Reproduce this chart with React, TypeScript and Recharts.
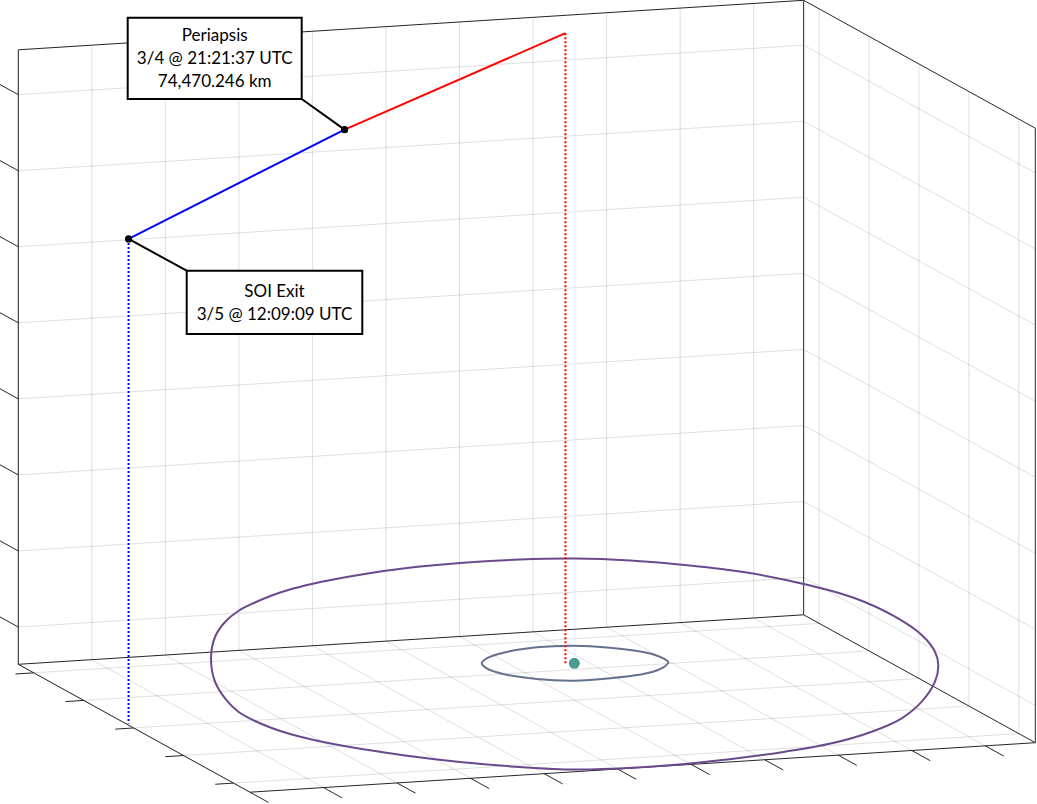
import { ComposedChart, Line, XAxis, YAxis, ReferenceArea } from "recharts";

// 3-D axes box (tick labels are switched off in the figure)
const X_TICKS = [0, 1, 2, 3, 4, 5, 6, 7, 8, 9, 10];
const Y_TICKS = [0, 1, 2, 3, 4];
const Z_TICKS = [0, 1, 2, 3, 4, 5, 6, 7];
const X_LIM = [0, 10.68];
const Y_LIM = [-0.31, 4.33];
const Z_LIM = [-0.49, 7.59];

// hyperbolic pass, in axis units
const approachStart = { x: 6.66, y: 0.84, z: 7.82 };
const periapsis = { x: 3.31, y: 1.35, z: 6.94 };
const soiExit = { x: 0.04, y: 1.84, z: 5.88 };

// orbit outlines as they appear in the view (screen plane)
const outerOrbit = [
  [575, 558.5], [630, 560.5], [690, 565.5], [745, 572.3], [805, 584.3], [855, 598.3],
  [895, 616.7], [921.7, 635], [935, 651.7], [938.3, 665], [935, 681.7], [921.7, 701.7],
  [901.7, 718.3], [871.7, 731.7], [831.7, 743.3], [785, 751.7], [745, 757.3], [690, 763.5],
  [636.7, 767.5], [575, 769.5], [520, 767], [460, 762], [405, 755.5], [361.7, 749],
  [333.3, 744], [311.7, 739.5], [291.7, 734.5], [271.7, 728], [255, 721], [238.3, 711.7],
  [225, 698.3], [215, 681.7], [211, 658.3], [215, 637], [225, 622], [238.3, 611],
  [255, 602.5], [271.7, 595.5], [288.3, 590], [311.7, 584], [333.3, 579.5], [361.7, 574.5],
  [405, 568.3], [460, 563], [520, 559.5],
];
const innerOrbit = [
  [573.3, 645.7], [610, 647.7], [646.7, 652.7], [663.3, 658.3], [668.3, 662.3],
  [663.3, 667.3], [646.7, 673.3], [610, 678.3], [573.3, 680.7], [536.7, 679],
  [503.3, 674], [486.7, 668.3], [481.7, 663.3], [486.7, 658.3], [503.3, 652.7],
  [536.7, 647.3],
];
const planet = [574.3, 663.3];

const periapsisText = ["Periapsis", "3/4 @ 21:21:37 UTC", "74,470.246 km"];
const soiExitText = ["SOI Exit", "3/5 @ 12:09:09 UTC"];

const W = 1037;
const H = 804;

// camera: where the unit box corners land on screen
const VIEW = { ox: 18.3, oy: 664.3, ux: 785.35, uy: -49.5, vx: 231.65, vy: 127.9, wy: -614.5 };
const TICK_V = 0.08; // tick length as a fraction of the y span
const TICK_U = 0.0233;

type P3 = { x: number; y: number; z: number };

function project(p: P3) {
  const u = (p.x - X_LIM[0]) / (X_LIM[1] - X_LIM[0]);
  const v = (p.y - Y_LIM[0]) / (Y_LIM[1] - Y_LIM[0]);
  const w = (p.z - Z_LIM[0]) / (Z_LIM[1] - Z_LIM[0]);
  return {
    px: VIEW.ox + u * VIEW.ux + v * VIEW.vx,
    py: VIEW.oy + u * VIEW.uy + v * VIEW.vy + w * VIEW.wy,
  };
}

// list of 3-D segments -> one broken polyline
function segments(list: [P3, P3][]) {
  const out: any[] = [];
  list.forEach(([a, b]) => {
    const pa = project(a);
    out.push(pa, project(b), { px: pa.px, py: null });
  });
  return out;
}

// closed centripetal Catmull-Rom, used as a d3 curve factory for the orbit loops
function loopCurve(context: any) {
  let pts: number[][] = [];
  return {
    areaStart() {},
    areaEnd() {},
    lineStart() {
      pts = [];
    },
    point(x: number, y: number) {
      pts.push([+x, +y]);
    },
    lineEnd() {
      const n = pts.length;
      if (!n) return;
      const d = (a: number[], b: number[]) => Math.hypot(b[0] - a[0], b[1] - a[1]) || 1e-6;
      context.moveTo(pts[0][0], pts[0][1]);
      for (let i = 0; i < n; i++) {
        const p0 = pts[(i - 1 + n) % n];
        const p1 = pts[i];
        const p2 = pts[(i + 1) % n];
        const p3 = pts[(i + 2) % n];
        const l01 = d(p0, p1), l12 = d(p1, p2), l23 = d(p2, p3);
        const a01 = Math.sqrt(l01), a12 = Math.sqrt(l12), a23 = Math.sqrt(l23);
        const a = 2 * l01 + 3 * a01 * a12 + l12;
        const na = 3 * a01 * (a01 + a12);
        const b = 2 * l23 + 3 * a23 * a12 + l12;
        const nb = 3 * a23 * (a23 + a12);
        const c1 = [0, 1].map((k) => (p1[k] * a - p0[k] * l12 + p2[k] * l01) / na);
        const c2 = [0, 1].map((k) => (p2[k] * b + p1[k] * l23 - p3[k] * l12) / nb);
        context.bezierCurveTo(c1[0], c1[1], c2[0], c2[1], p2[0], p2[1]);
      }
      context.closePath();
    },
  };
}

const [x0, x1] = X_LIM;
const [y0, y1] = Y_LIM;
const [z0, z1] = Z_LIM;

const gridData = segments([
  // back wall
  ...X_TICKS.map((x) => [{ x, y: y0, z: z0 }, { x, y: y0, z: z1 }] as [P3, P3]),
  ...Z_TICKS.map((z) => [{ x: x0, y: y0, z }, { x: x1, y: y0, z }] as [P3, P3]),
  // right wall
  ...Y_TICKS.map((y) => [{ x: x1, y, z: z0 }, { x: x1, y, z: z1 }] as [P3, P3]),
  ...Z_TICKS.map((z) => [{ x: x1, y: y0, z }, { x: x1, y: y1, z }] as [P3, P3]),
  // floor
  ...X_TICKS.map((x) => [{ x, y: y0, z: z0 }, { x, y: y1, z: z0 }] as [P3, P3]),
  ...Y_TICKS.map((y) => [{ x: x0, y, z: z0 }, { x: x1, y, z: z0 }] as [P3, P3]),
]);

const boxData = segments([
  [{ x: x0, y: y0, z: z0 }, { x: x0, y: y0, z: z1 }],
  [{ x: x0, y: y0, z: z1 }, { x: x1, y: y0, z: z1 }],
  [{ x: x1, y: y0, z: z0 }, { x: x1, y: y0, z: z1 }],
  [{ x: x1, y: y0, z: z1 }, { x: x1, y: y1, z: z1 }],
  [{ x: x1, y: y1, z: z0 }, { x: x1, y: y1, z: z1 }],
  [{ x: x0, y: y0, z: z0 }, { x: x1, y: y0, z: z0 }],
  [{ x: x1, y: y0, z: z0 }, { x: x1, y: y1, z: z0 }],
  [{ x: x0, y: y1, z: z0 }, { x: x1, y: y1, z: z0 }],
  [{ x: x0, y: y0, z: z0 }, { x: x0, y: y1, z: z0 }],
]);

const dv = TICK_V * (y1 - y0);
const du = TICK_U * (x1 - x0);
const tickData = segments([
  ...X_TICKS.map((x) => [{ x, y: y1, z: z0 }, { x, y: y1 + dv, z: z0 }] as [P3, P3]),
  ...Y_TICKS.map((y) => [{ x: x0, y, z: z0 }, { x: x0 - du, y, z: z0 }] as [P3, P3]),
  ...Z_TICKS.map((z) => [{ x: x0, y: y0, z }, { x: x0, y: y0 - dv, z }] as [P3, P3]),
]);

const approachData = [approachStart, periapsis].map(project);
const departureData = [periapsis, soiExit].map(project);
const approachDrop = [approachStart, { ...approachStart, z: z0 }].map(project);
const exitDrop = [soiExit, { ...soiExit, z: z0 }].map(project);
const eventData = [periapsis, soiExit].map(project);

const toView = (pts: number[][]) => pts.map(([px, py]) => ({ px, py }));

// annotation boxes (figure coordinates)
const PERI_BOX = { x1: 127.7, x2: 301.7, y1: 17.7, y2: 99 };
const SOI_BOX = { x1: 186.7, x2: 362.3, y1: 270.7, y2: 334 };
const periLeader = [{ px: PERI_BOX.x2, py: PERI_BOX.y2 }, eventData[0]];
const soiLeader = [{ px: SOI_BOX.x1, py: SOI_BOX.y1 }, eventData[1]];

const FONT = 'Lato, "Noto Sans", sans-serif';
const LINE_GAP = 23;

function boxLabel(lines: string[]) {
  return (props: any) => {
    const vb = props.viewBox || {};
    const cx = vb.x + vb.width / 2;
    const top = vb.y + vb.height / 2 - ((lines.length - 1) * LINE_GAP) / 2;
    return (
      <text textAnchor="middle" fontFamily={FONT} fontSize={17} fill="#000">
        {lines.map((t, i) => (
          <tspan key={i} x={cx} y={top + i * LINE_GAP} dy="0.36em">
            {t}
          </tspan>
        ))}
      </text>
    );
  };
}

const common = { dot: false, activeDot: false, isAnimationActive: false, legendType: "none" as const };

export default function App() {
  return (
    <div style={{ position: "absolute", left: 0, top: 0, width: W, height: H, background: "#fff" }}>
      <ComposedChart width={W} height={H} margin={{ top: 0, right: 0, bottom: 0, left: 0 }}>
        <XAxis dataKey="px" type="number" domain={[0, W]} hide allowDataOverflow />
        <YAxis type="number" domain={[0, H]} reversed hide allowDataOverflow />

        <Line {...common} data={gridData} dataKey="py" stroke="#262626" strokeOpacity={0.15} strokeWidth={1} connectNulls={false} />
        <Line {...common} data={boxData} dataKey="py" stroke="#262626" strokeWidth={1} connectNulls={false} />
        <Line {...common} data={tickData} dataKey="py" stroke="#262626" strokeWidth={1} connectNulls={false} />

        <Line {...common} data={toView(outerOrbit)} dataKey="py" type={loopCurve as any} stroke="#6a4a8c" strokeWidth={2} />
        <Line {...common} data={toView(innerOrbit)} dataKey="py" type={loopCurve as any} stroke="#66708f" strokeWidth={2} />

        <Line {...common} data={approachDrop} dataKey="py" stroke="#ff0000" strokeWidth={2} strokeDasharray="2 2" />
        <Line {...common} data={exitDrop} dataKey="py" stroke="#0000ff" strokeWidth={2} strokeDasharray="2 2" />

        <Line
          {...common}
          data={toView([planet])}
          dataKey="py"
          stroke="none"
          dot={{ r: 5.5, fill: "#4a9b8f", stroke: "none" }}
        />

        <Line {...common} data={approachData} dataKey="py" stroke="#ff0000" strokeWidth={2} />
        <Line {...common} data={departureData} dataKey="py" stroke="#0000ff" strokeWidth={2} />

        <Line {...common} data={periLeader} dataKey="py" stroke="#000" strokeWidth={2} />
        <Line {...common} data={soiLeader} dataKey="py" stroke="#000" strokeWidth={2} />

        <Line
          {...common}
          data={eventData}
          dataKey="py"
          stroke="none"
          dot={{ r: 3.6, fill: "#000", stroke: "none" }}
        />

        <ReferenceArea
          {...PERI_BOX}
          fill="#fff"
          fillOpacity={1}
          stroke="#000"
          strokeWidth={2}
          zIndex={1500}
          label={boxLabel(periapsisText)}
        />
        <ReferenceArea
          {...SOI_BOX}
          fill="#fff"
          fillOpacity={1}
          stroke="#000"
          strokeWidth={2}
          zIndex={1500}
          label={boxLabel(soiExitText)}
        />
      </ComposedChart>
    </div>
  );
}
